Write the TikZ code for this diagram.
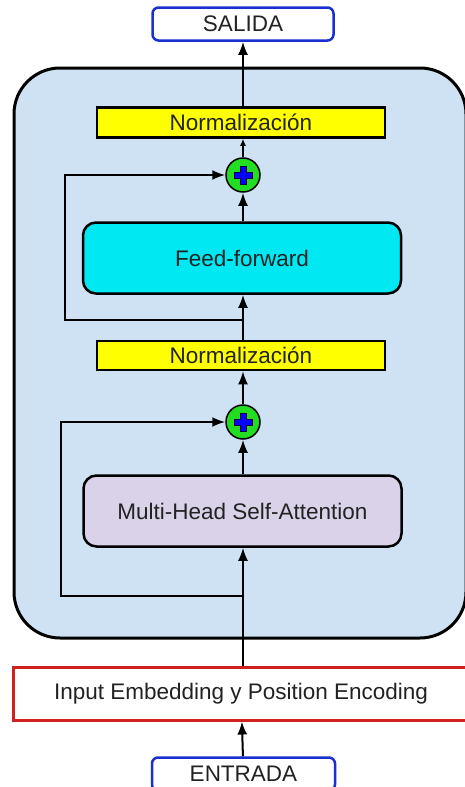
\documentclass[tikz,border=0pt]{standalone}
\usepackage{fontspec}
\setmainfont{Liberation Sans}
\usepackage{tikz}
\usetikzlibrary{arrows.meta}

\definecolor{encblue}{HTML}{CFE2F3}
\definecolor{normyellow}{HTML}{FFFF00}
\definecolor{ffcyan}{HTML}{00E8F2}
\definecolor{attlilac}{HTML}{D9D2E9}
\definecolor{sumgreen}{HTML}{22DD22}
\definecolor{ioblue}{HTML}{1A2FD0}
\definecolor{embred}{HTML}{D02020}
\definecolor{txt}{HTML}{222222}

\tikzset{
  lbl/.style={font=\fontsize{22.5}{27}\selectfont, text=txt, inner sep=0pt},
  iobox/.style={lbl, draw=ioblue, line width=2.5pt, fill=white, rounded corners=6pt},
  normbox/.style={lbl, draw=black, line width=2.5pt, fill=normyellow,
    minimum width=288pt, minimum height=30pt},
  layerbox/.style={lbl, draw=black, line width=2.5pt, rounded corners=13pt,
    minimum width=318pt, minimum height=71pt},
  sumnode/.style={circle, draw=black, line width=1.5pt, fill=sumgreen,
    minimum size=34pt, inner sep=0pt,
    path picture={
      \draw[shift={(path picture bounding box.center)}, fill=blue, draw=black!70!blue, line width=0.8pt]
        (-3,-9) -- (3,-9) -- (3,-3) -- (9,-3) -- (9,3) -- (3,3) -- (3,9)
        -- (-3,9) -- (-3,3) -- (-9,3) -- (-9,-3) -- (-3,-3) -- cycle;
    }},
  arr/.style={line width=2pt, -{Latex[length=13pt,width=10pt]}},
  smallarr/.style={line width=1.5pt, -{Latex[length=7pt,width=6pt]}}
}

\begin{document}
\begin{tikzpicture}[x=1pt,y=-1pt]
  \useasboundingbox (0,0) rectangle (465,787);

  % encoder block
  \node[draw=black, line width=3pt, fill=encblue, rounded corners=46pt,
    minimum width=452pt, minimum height=570pt, inner sep=0pt] (enc) at (240,353) {};

  % boxes
  \node[iobox, minimum width=181pt, minimum height=33pt] (salida) at (243,24) {SALIDA};
  \node[normbox] (norm2) at (241,122.5) {Normalización};
  \node[sumnode] (add2) at (243,175) {};
  \node[layerbox, fill=ffcyan] (ff) at (242,258) {Feed-forward};
  \node[normbox, minimum height=29pt] (norm1) at (241,355.5) {Normalización};
  \node[sumnode] (add1) at (243,422) {};
  \node[layerbox, fill=attlilac] (mhsa) at (242.5,511) {Multi-Head Self-Attention};
  \node[lbl, draw=embred, line width=3pt, fill=white,
    minimum width=456pt, minimum height=53pt] (emb) at (241,693.5)
    {Input Embedding y Position Encoding};
  \node[iobox, minimum width=183pt, minimum height=33pt] (entrada) at (243.5,774) {ENTRADA};

  % residual branch points
  \coordinate (res1) at (243,596);
  \coordinate (res2) at (243,320);

  % main flow
  \draw[arr] (entrada) -- (emb);
  \draw[arr] (emb.north -| res1) -- (mhsa.south -| res1);
  \draw[arr] (mhsa.north -| add1) -- (add1);
  \draw[arr] (add1) -- (norm1.south -| add1);
  \draw[arr] (norm1.north -| res2) -- (ff.south -| res2);
  \draw[arr] (ff.north -| add2) -- (add2);
  \draw[smallarr] (add2) -- (norm2.south -| add2);
  \draw[arr] (norm2.north -| add2) -- (salida);

  % residual connections
  \draw[arr] (res1) -- ++(-182,0) |- (add1);
  \draw[arr] (res2) -- ++(-178,0) |- (add2);
\end{tikzpicture}
\end{document}
